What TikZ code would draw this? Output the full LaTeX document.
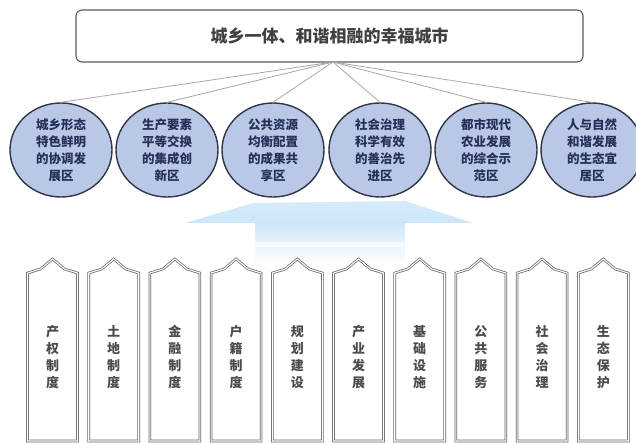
\documentclass[tikz,border=0pt]{standalone}
\usepackage{fontspec}
\setmainfont{Noto Sans CJK SC}
\usepackage{xcolor}
\usetikzlibrary{shapes.geometric}

\definecolor{zonefill}{RGB}{186,200,232}
\definecolor{zoneline}{RGB}{48,54,70}
\definecolor{zonetext}{RGB}{38,48,88}
\definecolor{arrowblue}{RGB}{204,230,249}

\begin{document}
\begin{tikzpicture}[
    x=1pt, y=-1pt,
    goal/.style={rectangle, draw=black!65, line width=1.1pt, rounded corners=6pt, minimum width=507pt, minimum height=52pt, text=black!75, font=\fontsize{17}{20}\bfseries\selectfont},
    zone/.style={ellipse, draw=zoneline, line width=1.4pt, fill=zonefill, minimum width=102pt, minimum height=94pt, inner sep=0pt, align=center, text=zonetext, font=\fontsize{12.5}{17}\bfseries\selectfont},
    link/.style={draw=black!35, line width=0.8pt},
    pillar/.style={draw=black!60, double=white, double distance=1.1pt, line width=0.75pt, fill=white},
    pillartext/.style={align=center, text=black!70, font=\fontsize{13}{17}\bfseries\selectfont}
]
    \useasboundingbox (0,0) rectangle (636,443);

    % Goal
    \node[goal] (goal) at (329.5,36) {城乡一体、和谐相融的幸福城市};
    \coordinate (hub) at (333,62);

    % Zones
    \node[zone] (z1) at (61,150) {城乡形态\\特色鲜明\\的协调发\\展区};
    \node[zone] (z2) at (167,150) {生产要素\\平等交换\\的集成创\\新区};
    \node[zone] (z3) at (273,150) {公共资源\\均衡配置\\的成果共\\享区};
    \node[zone] (z4) at (380,150) {社会治理\\科学有效\\的善治先\\进区};
    \node[zone] (z5) at (486,150) {都市现代\\农业发展\\的综合示\\范区};
    \node[zone] (z6) at (592,150) {人与自然\\和谐发展\\的生态宜\\居区};

    % Links
    \draw[link] (hub) -- (z1.north);
    \draw[link] (hub) -- (z2.north);
    \draw[link] (hub) -- (z3.north);
    \draw[link] (hub) -- (z4.north);
    \draw[link] (hub) -- (z5.north);
    \draw[link] (hub) -- (z6.north);

    % Upward arrow
    \shade[top color=arrowblue, bottom color=white] (255,222) rectangle (405,264);
    \fill[white, opacity=0.6] (255,242) rectangle (405,247);
    \shade[top color=arrowblue!80, bottom color=arrowblue] (185,223) -- (253,203) -- (405,201) -- (473,223) -- cycle;

    % Pillars
    \foreach \cx/\name/\txt in {52.5/p1/产\\权\\制\\度, 113.7/p2/土\\地\\制\\度, 174.9/p3/金\\融\\制\\度, 236.1/p4/户\\籍\\制\\度, 297.3/p5/规\\划\\建\\设, 358.5/p6/产\\业\\发\\展, 419.7/p7/基\\础\\设\\施, 480.9/p8/公\\共\\服\\务, 542.1/p9/社\\会\\治\\理, 603.3/p10/生\\态\\保\\护}{
        \draw[pillar] (\cx-25,441) -- (\cx-25,273) -- (\cx-12,269) -- (\cx,259) -- (\cx+12,269) -- (\cx+25,273) -- (\cx+25,441) -- cycle;
        \node[pillartext] (\name) at (\cx,357) {\txt};
    }
\end{tikzpicture}
\end{document}
